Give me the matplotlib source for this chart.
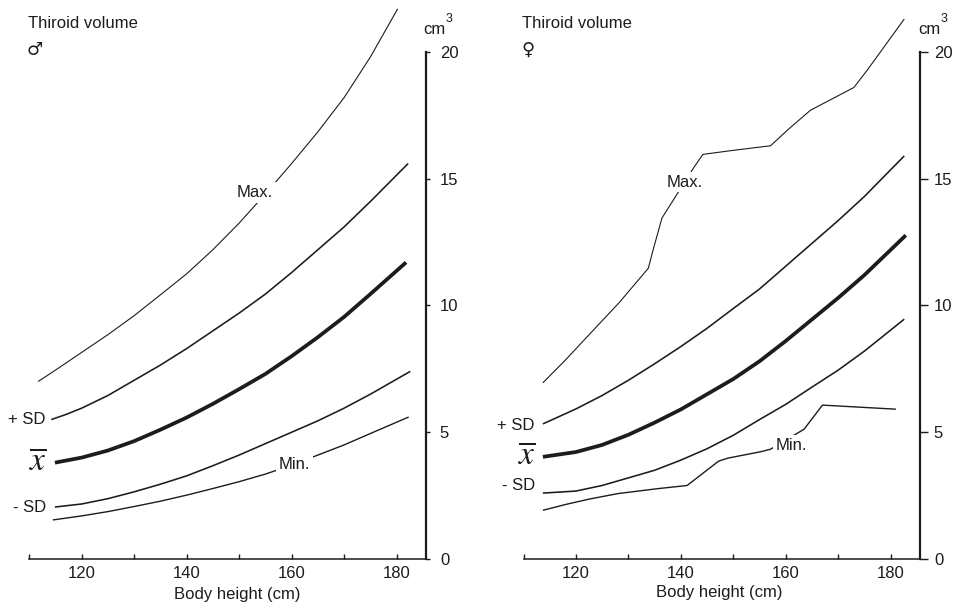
import matplotlib
matplotlib.use('Agg')
import matplotlib.pyplot as plt
from matplotlib.ticker import FixedLocator

plt.rcParams['font.family'] = ['Liberation Sans', 'DejaVu Sans']

INK = '#1c1c1c'
W, H = 962, 610

# body height (cm) / thyroid volume (cm3)
# male panel
m_max_h = [111.7, 115, 120, 125, 130, 135, 140, 145, 150, 155, 160, 165, 170, 175, 180.2]
m_max_v = [7.0, 7.45, 8.15, 8.85, 9.6, 10.42, 11.25, 12.2, 13.25, 14.4, 15.6, 16.85, 18.2, 19.8, 21.7]
m_psd_h = [114.2, 117, 120, 125, 130, 135, 140, 145, 150, 155, 160, 165, 170, 175, 182.2]
m_psd_v = [5.5, 5.7, 5.95, 6.45, 7.05, 7.65, 8.3, 9.0, 9.7, 10.45, 11.3, 12.2, 13.1, 14.1, 15.6]
m_mean_h = [114.9, 120, 125, 130, 135, 140, 145, 150, 155, 160, 165, 170, 175, 181.8]
m_mean_v = [3.8, 4.0, 4.28, 4.65, 5.1, 5.58, 6.12, 6.7, 7.3, 8.0, 8.75, 9.55, 10.45, 11.7]
m_msd_h = [114.9, 120, 125, 130, 135, 140, 145, 150, 155, 160, 165, 170, 175, 182.6]
m_msd_v = [2.05, 2.17, 2.38, 2.65, 2.95, 3.28, 3.68, 4.1, 4.55, 5.0, 5.45, 5.95, 6.5, 7.4]
m_min_h = [114.5, 120, 125, 130, 135, 140, 145, 150, 155, 160, 165, 170, 175, 182.3]
m_min_v = [1.54, 1.7, 1.87, 2.07, 2.28, 2.52, 2.78, 3.05, 3.35, 3.7, 4.1, 4.5, 4.95, 5.6]

# female panel
f_max_h = [113.7, 118, 122.7, 128.4, 133.8, 134.8, 136.4, 139.3, 142.5, 144.2, 150, 157.1, 160.5, 164.7, 173, 175.6, 182.6]
f_max_v = [6.95, 7.85, 8.89, 10.15, 11.47, 12.26, 13.45, 14.4, 15.45, 15.96, 16.12, 16.3, 16.95, 17.7, 18.6, 19.3, 21.3]
f_psd_h = [113.7, 115, 120, 125, 130, 135, 140, 145, 150, 155, 160, 165, 170, 175, 182.6]
f_psd_v = [5.33, 5.45, 5.92, 6.45, 7.05, 7.7, 8.38, 9.1, 9.88, 10.65, 11.55, 12.45, 13.35, 14.3, 15.9]
f_mean_h = [113.7, 120, 125, 130, 135, 140, 145, 150, 155, 160, 165, 170, 175, 182.9]
f_mean_v = [4.03, 4.22, 4.5, 4.9, 5.38, 5.9, 6.5, 7.1, 7.8, 8.6, 9.45, 10.3, 11.2, 12.77]
f_msd_h = [113.7, 120, 125, 130, 135, 140, 145, 150, 155, 160, 165, 170, 175, 182.6]
f_msd_v = [2.6, 2.68, 2.9, 3.2, 3.5, 3.9, 4.35, 4.88, 5.5, 6.1, 6.78, 7.45, 8.2, 9.46]
f_min_h = [113.7, 118, 122.7, 128, 135.4, 141.2, 147.2, 149, 155.2, 157.1, 163.5, 167, 181]
f_min_v = [1.92, 2.15, 2.37, 2.58, 2.77, 2.9, 3.86, 3.98, 4.23, 4.33, 5.12, 6.07, 5.91]

x_major = [120, 140, 160, 180]
x_minor = [110, 130, 150, 170]
y_ticks = [0, 5, 10, 15, 20]


def fpos(x, y):
    # pixel position -> figure fraction
    return x / W, 1 - y / H


def draw_panel(ax, curves, max_lbl, min_lbl, side_x, side_y):
    ax.set_xlim(110, 185.6)
    ax.set_ylim(0, 22.05)
    widths = [0.8, 1.15, 2.7, 1.15, 1.0]
    for (h, v), lw in zip(curves, widths):
        ax.plot(h, v, color=INK, lw=lw, solid_capstyle='butt', solid_joinstyle='round')

    ax.text(max_lbl[0], max_lbl[1], 'Max.', fontsize=12, color=INK, va='center',
            zorder=5, bbox=dict(facecolor='white', edgecolor='none', pad=2))
    ax.text(min_lbl[0], min_lbl[1], 'Min.', fontsize=12, color=INK, va='center',
            zorder=5, bbox=dict(facecolor='white', edgecolor='none', pad=2))

    # labels at the left end of the curves
    ax.text(side_x, side_y[0], '+ SD', fontsize=12, color=INK, ha='right', va='center')
    ax.text(side_x + 0.3, side_y[1], r'$\overline{x}$', fontsize=24, color=INK,
            ha='right', va='center', math_fontfamily='stix')
    ax.text(side_x + 0.2, side_y[2], '- SD', fontsize=12, color=INK, ha='right', va='center')

    for s in ['top', 'left']:
        ax.spines[s].set_visible(False)
    ax.spines['right'].set_bounds(0, 20)
    ax.spines['right'].set_linewidth(1.6)
    ax.spines['bottom'].set_linewidth(1.1)
    ax.spines['right'].set_color(INK)
    ax.spines['bottom'].set_color(INK)

    ax.xaxis.set_major_locator(FixedLocator(x_major))
    ax.xaxis.set_minor_locator(FixedLocator(x_minor))
    ax.tick_params(axis='x', which='both', direction='in', length=3.5, width=1,
                   pad=5, labelsize=12, colors=INK)
    ax.yaxis.tick_right()
    ax.set_yticks(y_ticks)
    ax.tick_params(axis='y', direction='out', length=3, width=1, pad=7,
                   labelsize=12, colors=INK)


fig = plt.figure(figsize=(W / 100, H / 100), dpi=100)

ax1 = fig.add_axes([29.2 / W, 51 / H, 396.8 / W, 559 / H])
draw_panel(ax1,
           [(m_max_h, m_max_v), (m_psd_h, m_psd_v), (m_mean_h, m_mean_v),
            (m_msd_h, m_msd_v), (m_min_h, m_min_v)],
           (149.6, 14.45), (157.6, 3.74), 113.0, (5.5, 3.85, 2.05))

ax2 = fig.add_axes([523.5 / W, 51 / H, 396.5 / W, 559 / H])
draw_panel(ax2,
           [(f_max_h, f_max_v), (f_psd_h, f_psd_v), (f_mean_h, f_mean_v),
            (f_msd_h, f_msd_v), (f_min_h, f_min_v)],
           (137.3, 14.87), (158.1, 4.48), 112.0, (5.25, 4.08, 2.9))
ax2.tick_params(axis='y', length=6, pad=4)

# headings, sex symbols and units
for x0, sym, ux in [(28, '\u2642', 423), (522, '\u2640', 918)]:
    fig.text(*fpos(x0, 23), 'Thiroid volume', fontsize=12, color=INK, va='center')
    fig.text(*fpos(x0 - 1, 50), sym, fontsize=13, color=INK, va='center',
             family=['DejaVu Sans'])
    fig.text(*fpos(ux, 30), 'cm', fontsize=12, color=INK, va='center')
    fig.text(*fpos(ux + 23, 19), '3', fontsize=9, color=INK, va='center')

fig.text(*fpos(237.5, 595), 'Body height (cm)', fontsize=12, color=INK,
         ha='center', va='center')
fig.text(*fpos(719, 593), 'Body height (cm)', fontsize=12, color=INK,
         ha='center', va='center')

fig.savefig('out.png', dpi=100, facecolor='white')
